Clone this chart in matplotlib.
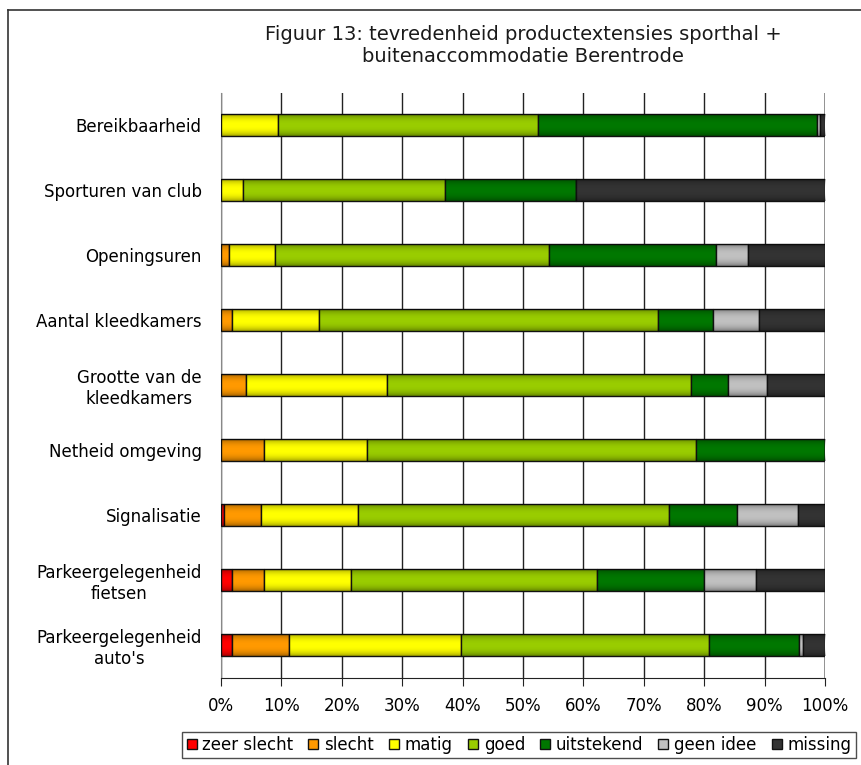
import matplotlib
matplotlib.use("Agg")
import matplotlib.pyplot as plt
import numpy as np
from matplotlib.lines import Line2D

# categories, top to bottom
categories = [
    "Bereikbaarheid",
    "Sporturen van club",
    "Openingsuren",
    "Aantal kleedkamers",
    "Grootte van de\nkleedkamers",
    "Netheid omgeving",
    "Signalisatie",
    "Parkeergelegenheid\nfietsen",
    "Parkeergelegenheid\nauto's",
]

series_names = ["zeer slecht", "slecht", "matig", "goed", "uitstekend", "geen idee", "missing"]
series_colors = ["#FF0000", "#FF9900", "#FFFF00", "#99CC00", "#007700", "#C0C0C0", "#333333"]

# percentages per category (same order as categories)
zeer_slecht = [0.0, 0.0, 0.0, 0.0, 0.0, 0.0, 0.5, 1.8, 1.8]
slecht = [0.0, 0.0, 1.3, 1.8, 4.1, 7.2, 6.2, 5.4, 9.5]
matig = [9.5, 3.6, 7.6, 14.4, 23.4, 17.0, 16.0, 14.4, 28.4]
goed = [43.0, 33.5, 45.4, 56.1, 50.3, 54.4, 51.5, 40.7, 41.1]
uitstekend = [46.1, 21.6, 27.6, 9.1, 6.2, 21.4, 11.3, 17.6, 14.9]
geen_idee = [0.5, 0.0, 5.4, 7.7, 6.4, 0.0, 10.1, 8.7, 0.6]
missing = [0.9, 41.3, 12.7, 10.9, 9.6, 0.0, 4.4, 11.4, 3.7]

xticks = list(range(0, 101, 10))

plt.rcParams["font.family"] = ["DejaVu Sans"]

fig = plt.figure(figsize=(8.61, 7.65), dpi=100)
ax = fig.add_axes([221 / 861, 1 - 677.5 / 765, 604 / 861, 585 / 765])

# vertical shading overlay (darker towards the bar edges)
t = np.linspace(-1, 1, 64)
shade = np.zeros((64, 1, 4))
shade[:, 0, 3] = 0.35 * np.abs(t) ** 2.5

data = [zeer_slecht, slecht, matig, goed, uitstekend, geen_idee, missing]
y = np.arange(len(categories))
left = np.zeros(len(categories))
for name, vals, col in zip(series_names, data, series_colors):
    vals = np.array(vals)
    bars = ax.barh(y, vals, left=left, height=0.33, color=col, edgecolor="#111111",
                   linewidth=1.0, label=name, zorder=3)
    for b in bars:
        if b.get_width() <= 0:
            continue
        x0, y0 = b.get_x(), b.get_y()
        im = ax.imshow(shade, extent=[x0, x0 + b.get_width(), y0 + b.get_height(), y0],
                       aspect="auto", zorder=3.5, interpolation="bilinear")
        im.set_clip_path(b)
    left += vals

ax.set_xlim(0, 100)
ax.set_ylim(len(categories) - 0.5, -0.5)
ax.set_xticks(xticks)
ax.set_xticklabels([f"{t}%" for t in xticks], fontsize=12)
ax.set_yticks(y)
ax.set_yticklabels(categories, fontsize=12, multialignment="center")
ax.tick_params(axis="y", length=0, pad=14)
ax.tick_params(axis="x", length=6, direction="out", pad=8, color="#222222")
ax.xaxis.grid(True, color="#222222", linewidth=1.0, zorder=0)
ax.set_axisbelow(True)

for s in ["top", "right"]:
    ax.spines[s].set_visible(False)
ax.spines["left"].set_color("#888888")
ax.spines["bottom"].set_color("#222222")
ax.axvline(100, color="#888888", linewidth=1.2, zorder=1)

fig.text(523 / 861, 1 - 46 / 765,
         "Figuur 13: tevredenheid productextensies sporthal +\nbuitenaccommodatie Berentrode",
         ha="center", va="center", fontsize=14, linespacing=1.2, color="#1a1a1a")

# outer frame (left and top edges)
fig.add_artist(Line2D([8 / 861, 8 / 861], [0, 1 - 10 / 765], color="#333333", linewidth=1.2))
fig.add_artist(Line2D([8 / 861, 1], [1 - 10 / 765, 1 - 10 / 765], color="#333333", linewidth=1.2))

leg = fig.legend(loc="center", bbox_to_anchor=(519 / 861, 1 - 745 / 765), ncol=7,
                 fontsize=12, frameon=True, fancybox=False, handlelength=0.6,
                 handleheight=0.6, handletextpad=0.35, columnspacing=0.9,
                 borderpad=0.25, borderaxespad=0)
leg.get_frame().set_edgecolor("#222222")
leg.get_frame().set_linewidth(1.0)

fig.savefig("out.png", dpi=100)
